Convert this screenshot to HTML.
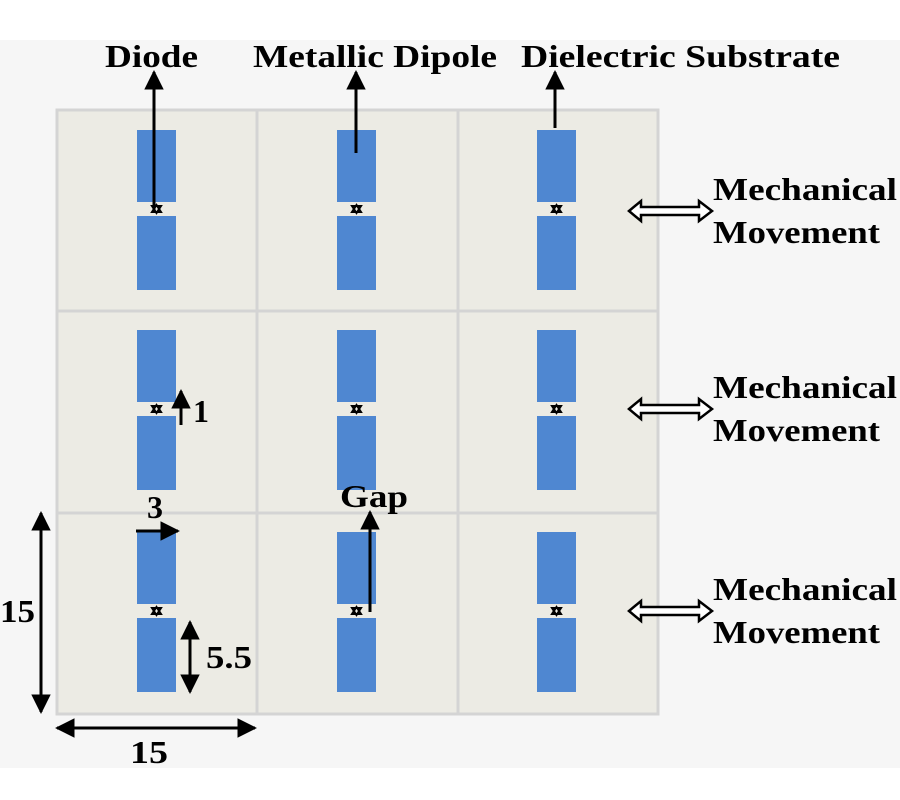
<!DOCTYPE html>
<html><head><meta charset="utf-8"><style>
html,body{margin:0;padding:0;background:#fff;}
svg{display:block;}
text{font-family:"Liberation Serif",serif;font-weight:bold;fill:#000;}
</style></head><body>
<svg width="900" height="800" viewBox="0 0 900 800" xmlns="http://www.w3.org/2000/svg">
<defs>
<marker id="ah" viewBox="0 0 10 10" refX="9" refY="5" markerWidth="6.5" markerHeight="7" markerUnits="strokeWidth" orient="auto-start-reverse">
<path d="M0,0 L10,5 L0,10 z" fill="#000"/></marker>
<g id="dip">
<rect x="0" y="0" width="39" height="72" fill="#4f87d1"/>
<rect x="0" y="86" width="39" height="74" fill="#4f87d1"/>
<path d="M15,76 L24,76 L19.5,83 z M15,82 L24,82 L19.5,75 z" fill="none" stroke="#000" stroke-width="2"/>
</g>
<g id="mm">
<path d="M0,10 L12,0 L12,6 L70,6 L70,0 L83,10 L70,20 L70,14 L12,14 L12,20 z" fill="#fff" stroke="#000" stroke-width="2.5"/>
</g>
</defs>
<rect x="0" y="40" width="900" height="728" fill="#f6f6f6"/>
<rect x="57" y="110" width="601" height="604" fill="#ecebe4" stroke="#d4d4d4" stroke-width="3"/>
<g stroke="#d4d4d4" stroke-width="3">
<line x1="257" y1="110" x2="257" y2="714"/><line x1="458" y1="110" x2="458" y2="714"/>
<line x1="57" y1="311" x2="658" y2="311"/><line x1="57" y1="513" x2="658" y2="513"/>
</g>
<use href="#dip" x="137" y="130"/><use href="#dip" x="337" y="130"/><use href="#dip" x="537" y="130"/>
<use href="#dip" x="137" y="330"/><use href="#dip" x="337" y="330"/><use href="#dip" x="537" y="330"/>
<use href="#dip" x="137" y="532"/><use href="#dip" x="337" y="532"/><use href="#dip" x="537" y="532"/>
<g font-size="32">
<text x="105" y="67" textLength="93" lengthAdjust="spacingAndGlyphs">Diode</text>
<text x="253" y="67" textLength="244" lengthAdjust="spacingAndGlyphs">Metallic Dipole</text>
<text x="521" y="67" textLength="319" lengthAdjust="spacingAndGlyphs">Dielectric Substrate</text>
<text x="713" y="200" textLength="184" lengthAdjust="spacingAndGlyphs">Mechanical</text><text x="713" y="243" textLength="167" lengthAdjust="spacingAndGlyphs">Movement</text>
<text x="713" y="398" textLength="184" lengthAdjust="spacingAndGlyphs">Mechanical</text><text x="713" y="441" textLength="167" lengthAdjust="spacingAndGlyphs">Movement</text>
<text x="713" y="600" textLength="184" lengthAdjust="spacingAndGlyphs">Mechanical</text><text x="713" y="643" textLength="167" lengthAdjust="spacingAndGlyphs">Movement</text>
<text x="193" y="422">1</text>
<text x="147" y="518">3</text>
<text x="340" y="507" textLength="68" lengthAdjust="spacingAndGlyphs">Gap</text>
<text x="206" y="668" textLength="46" lengthAdjust="spacingAndGlyphs">5.5</text>
<text x="0" y="622" textLength="35" lengthAdjust="spacingAndGlyphs">15</text>
<text x="130" y="763" textLength="38" lengthAdjust="spacingAndGlyphs">15</text>
</g>
<g stroke="#000" stroke-width="3" fill="none" marker-end="url(#ah)">
<line x1="154" y1="212" x2="154" y2="72"/>
<line x1="356" y1="153" x2="356" y2="72"/>
<line x1="555" y1="128" x2="555" y2="72"/>
<line x1="181" y1="425" x2="181" y2="391"/>
<line x1="136" y1="531" x2="178" y2="531"/>
<line x1="370" y1="612" x2="370" y2="512"/>
<line x1="190" y1="622" x2="190" y2="692" marker-start="url(#ah)"/>
<line x1="41" y1="513" x2="41" y2="712" marker-start="url(#ah)"/>
<line x1="57" y1="728" x2="255" y2="728" marker-start="url(#ah)"/>
</g>
<use href="#mm" x="629" y="201"/>
<use href="#mm" x="629" y="399"/>
<use href="#mm" x="629" y="601"/>
</svg>
</body></html>
